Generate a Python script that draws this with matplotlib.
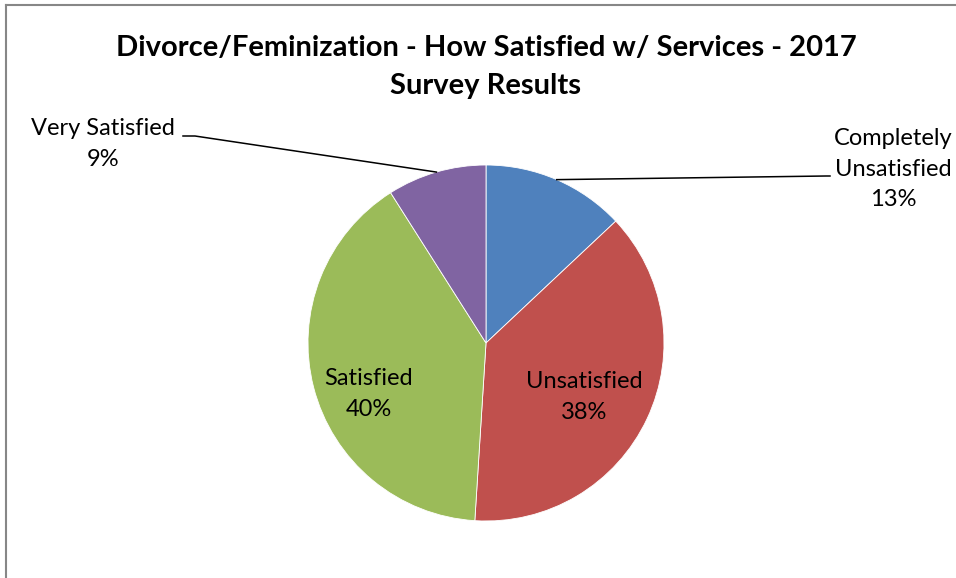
import numpy as np
import matplotlib
matplotlib.use('Agg')
from matplotlib import pyplot as plt
from matplotlib.lines import Line2D

# survey data
categories = ['Completely\nUnsatisfied', 'Unsatisfied', 'Satisfied', 'Very Satisfied']
shares = [13, 38, 40, 9]
colors = ['#4F81BD', '#C0504D', '#9BBB59', '#8064A2']

W, H = 956, 578
plt.rcParams['font.family'] = ['Lato', 'DejaVu Sans']

fig = plt.figure(figsize=(W / 100, H / 100), dpi=100)
ax = fig.add_axes([0, 0, 1, 1])

cx, cy, r = 486, H - 343, 178
wedges, _ = ax.pie(shares, colors=colors, startangle=90, counterclock=False,
                   center=(cx, cy), radius=r, frame=True,
                   wedgeprops=dict(edgecolor='white', linewidth=0.6))
ax.set_xlim(0, W)
ax.set_ylim(0, H)
ax.set_aspect('equal')
ax.axis('off')


def edge_point(w):
    ang = np.deg2rad((w.theta1 + w.theta2) / 2)
    return cx + r * np.cos(ang), cy + r * np.sin(ang)


lab_size = 17
ls = 1.55
# inside labels
ax.text(584, H - 397, f'{categories[1]}\n{shares[1]}%', ha='center', va='center',
        fontsize=lab_size, linespacing=ls)
ax.text(369, H - 394, f'{categories[2]}\n{shares[2]}%', ha='center', va='center',
        fontsize=lab_size, linespacing=ls)

# outside label, Completely Unsatisfied
px, py = edge_point(wedges[0])
ax.plot([px, 826, 830], [py, H - 176, H - 176], color='black', lw=1.1)
ax.text(893, H - 169, f'{categories[0]}\n{shares[0]}%', ha='center', va='center',
        fontsize=lab_size, linespacing=ls)

# outside label, Very Satisfied
px, py = edge_point(wedges[3])
ax.plot([px, 195, 183], [py, H - 136, H - 136], color='black', lw=1.1)
ax.text(103, H - 144, f'{categories[3]}\n{shares[3]}%', ha='center', va='center',
        fontsize=lab_size, linespacing=ls)

fig.text(486 / W, 1 - 67 / H, 'Divorce/Feminization - How Satisfied w/ Services - 2017\nSurvey Results',
         ha='center', va='center', fontsize=21, fontweight='bold', linespacing=1.6)

# chart border
fig.add_artist(Line2D([6 / W, 1], [1 - 5 / H, 1 - 5 / H], color='#878787', lw=1.5))
fig.add_artist(Line2D([6 / W, 6 / W], [0, 1 - 5 / H], color='#878787', lw=1.5))

fig.savefig('out.png', dpi=100)
